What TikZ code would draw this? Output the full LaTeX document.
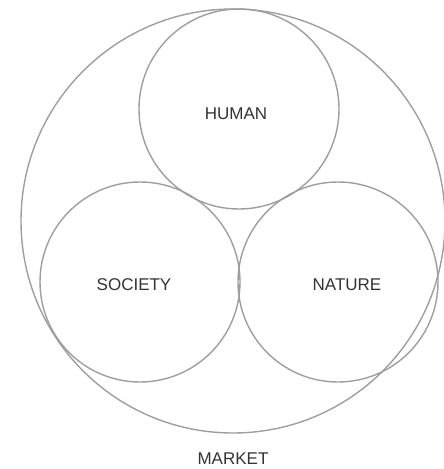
\documentclass[tikz,border=0pt]{standalone}
\usepackage{fontspec}
\setmainfont{Liberation Sans}
\usetikzlibrary{positioning}
\definecolor{ring}{HTML}{9E9E9E}
\definecolor{ink}{HTML}{333333}
\tikzset{
  ring/.style={draw=ring, circle, line width=1.4pt, inner sep=0pt, minimum size=#1},
  ring/.default=200pt,
  lbl/.style={text=ink, font=\fontsize{17}{19}\selectfont, inner sep=0pt},
}

\begin{document}
\begin{tikzpicture}[x=1pt, y=-1pt]
  \useasboundingbox (0,0) rectangle (444,469);
  \node[ring=424pt] (mkt) at (233,221) {};
  \node[ring] (hum) at (239,109) {};
  \node[ring] (soc) at (140,282) {};
  \node[ring] (nat) at (338,282) {};
  \node[lbl] at (236,114) {HUMAN};
  \node[lbl] at (134,285) {SOCIETY};
  \node[lbl] at (347,285) {NATURE};
  \node[lbl, below=19pt of mkt] (mktlbl) {MARKET};
\end{tikzpicture}
\end{document}
